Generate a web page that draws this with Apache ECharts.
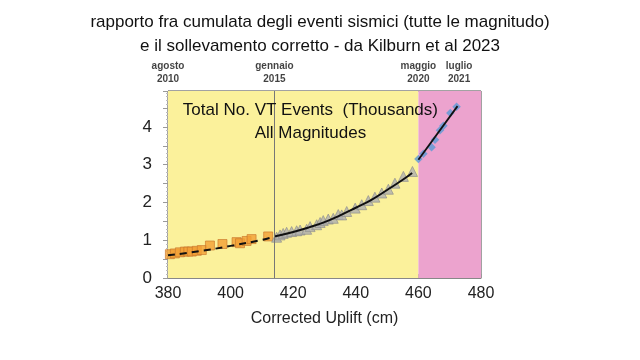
<!DOCTYPE html>
<html><head><meta charset="utf-8">
<script src="https://cdn.jsdelivr.net/npm/echarts@6/dist/echarts.min.js"></script>
<style>html,body{margin:0;padding:0;background:#fff}#c{width:640px;height:360px}</style>
</head><body><div id="c"></div>
<script>
// ---- data ----
var titleLines = ['rapporto fra cumulata degli eventi sismici (tutte le magnitudo)', 'e il sollevamento corretto - da Kilburn et al 2023'];
var xTicks = [380, 400, 420, 440, 460, 480];
var yTicks = [0, 1, 2, 3, 4];
var eventX = [380, 414, 460, 473];
var eventLabels = ['agosto\n2010', 'gennaio\n2015', 'maggio\n2020', 'luglio\n2021'];

var squaresX = [380.6, 382.2, 383.8, 385.4, 386.5, 387.6, 389.2, 390.8, 393.4, 397.4, 401.9, 403.0, 405.1, 406.7, 412.0];
var squaresY = [0.63, 0.65, 0.68, 0.70, 0.70, 0.70, 0.72, 0.74, 0.86, 0.90, 0.95, 0.92, 0.98, 1.03, 1.10];

var trianglesX = [414.7, 415.8, 416.8, 417.9, 419.5, 421.1, 422.2, 424.3, 425.4, 427.5, 428.6, 429.6, 431.2, 432.8, 434.4, 435.5, 437.1, 439.8, 441.9, 444.0, 446.1, 448.3, 450.4, 452.5, 455.2, 458.1];
var trianglesY = [1.08, 1.14, 1.18, 1.21, 1.23, 1.25, 1.27, 1.29, 1.36, 1.41, 1.47, 1.52, 1.56, 1.58, 1.68, 1.67, 1.76, 1.85, 1.94, 2.05, 2.14, 2.25, 2.35, 2.51, 2.69, 2.82];

var diamondsX = [460.0, 461.6, 464.2, 465.3, 466.9, 468.0, 470.2, 472.2];
var diamondsY = [3.15, 3.29, 3.46, 3.66, 3.91, 4.03, 4.37, 4.53];

var fitDashX = [380, 390, 400, 410, 414];
var fitDashY = [0.60, 0.71, 0.85, 1.01, 1.10];
var fitCurveX = [414, 420, 425, 430, 435, 440, 445, 450, 455, 458];
var fitCurveY = [1.10, 1.22, 1.34, 1.48, 1.66, 1.86, 2.07, 2.33, 2.60, 2.78];
var fitLineX = [460, 472.5];
var fitLineY = [3.13, 4.55];

var periodStart = 380, periodSplit = 460, periodEnd = 480, markX = 414;
var annotation = ['Total No. VT Events  (Thousands)', 'All Magnitudes'];
var xName = 'Corrected Uplift (cm)';

function zip(a, b) { return a.map(function (v, i) { return [v, b[i]]; }); }

var FONT = '"Liberation Sans", Arial, sans-serif';
var chart = echarts.init(document.getElementById('c'));
chart.setOption({
  animation: false,
  backgroundColor: '#ffffff',
  textStyle: { fontFamily: FONT },
  title: [
    { text: titleLines[0], left: 'center', top: 9, textStyle: { fontSize: 17, fontWeight: 'normal', color: '#111', fontFamily: FONT } },
    { text: titleLines[1], left: 'center', top: 33, textStyle: { fontSize: 17, fontWeight: 'normal', color: '#111', fontFamily: FONT } }
  ],
  grid: { left: 168, right: 159, top: 91, bottom: 82, show: true, borderColor: '#444', borderWidth: 1, backgroundColor: 'transparent' },
  xAxis: {
    type: 'value', min: xTicks[0], max: xTicks[xTicks.length - 1], interval: 20,
    name: xName, nameLocation: 'middle', nameGap: 33,
    nameTextStyle: { fontSize: 16, color: '#222', fontFamily: FONT },
    axisLine: { show: true, lineStyle: { color: '#888', width: 1 } },
    axisTick: { show: true, inside: true, length: 4, lineStyle: { color: '#999' } },
    minorTick: { show: true, splitNumber: 10, length: 2, lineStyle: { color: '#bbb' } },
    axisLabel: { fontSize: 16, color: '#222', margin: 8, fontFamily: FONT },
    splitLine: { show: false }
  },
  yAxis: {
    type: 'value', min: 0, max: 4.95, interval: 0.5,
    axisLine: { show: true, lineStyle: { color: '#888', width: 1 } },
    axisTick: { show: true, inside: false, length: 5, lineStyle: { color: '#999' } },
    minorTick: { show: true, splitNumber: 5, length: 2, lineStyle: { color: '#bbb' } },
    axisLabel: {
      fontSize: 17, color: '#222', margin: 16, fontFamily: FONT, showMaxLabel: false,
      formatter: function (v) { return yTicks.indexOf(v) >= 0 ? String(v) : ''; }
    },
    splitLine: { show: false }
  },
  series: [
    {
      type: 'line', data: [], silent: true,
      markArea: {
        silent: true,
        data: [
          [{ xAxis: periodStart, itemStyle: { color: '#FBF19B' } }, { xAxis: periodSplit }],
          [{ xAxis: periodSplit, itemStyle: { color: '#ECA3CE' } }, { xAxis: periodEnd }]
        ]
      },
      markLine: {
        silent: true, symbol: 'none', label: { show: false },
        lineStyle: { color: '#777', type: 'solid', width: 1 },
        data: [{ xAxis: markX }]
      }
    },
    {
      type: 'scatter', data: zip(squaresX, squaresY), symbol: 'rect', symbolSize: 9, z: 3,
      itemStyle: { color: '#F2A035', borderColor: '#C8742A', borderWidth: 0.8 }
    },
    {
      type: 'scatter', data: zip(trianglesX, trianglesY), symbol: 'triangle', symbolSize: 10, z: 3,
      itemStyle: { color: '#B0B0B0', borderColor: '#8a8a8a', borderWidth: 0.8 }
    },
    {
      type: 'scatter', data: zip(diamondsX, diamondsY), symbol: 'rect', symbolRotate: 45, symbolSize: 6, z: 3,
      itemStyle: { color: '#5B9AD6' }
    },
    {
      type: 'line', data: zip(fitDashX, fitDashY), smooth: true, showSymbol: false, z: 4,
      lineStyle: { color: '#111', width: 2, type: [7, 5] }
    },
    {
      type: 'line', data: zip(fitCurveX, fitCurveY), smooth: true, showSymbol: false, z: 4,
      lineStyle: { color: '#111', width: 2 }
    },
    {
      type: 'line', data: zip(fitLineX, fitLineY), showSymbol: false, z: 4,
      lineStyle: { color: '#111', width: 1.8 }
    },
    {
      type: 'scatter', symbolSize: 0, silent: true, clip: false,
      data: eventX.map(function (x, i) { return { value: [x, 4.95], label: { formatter: eventLabels[i] } }; }),
      label: {
        show: true, position: 'top', distance: 5, fontSize: 10, fontWeight: 'bold',
        color: '#111', lineHeight: 13, align: 'center', fontFamily: FONT
      }
    }
  ]
});
// annotation text positioned inside the plot via the axes
var p1 = chart.convertToPixel({ gridIndex: 0 }, [425.5, 4.44]);
var p2 = chart.convertToPixel({ gridIndex: 0 }, [425.5, 3.84]);
chart.setOption({
  graphic: [
    { type: 'text', x: p1[0], y: p1[1], style: { text: annotation[0], fontSize: 17, fill: '#111', align: 'center', verticalAlign: 'middle', fontFamily: FONT }, z: 10 },
    { type: 'text', x: p2[0], y: p2[1], style: { text: annotation[1], fontSize: 17, fill: '#111', align: 'center', verticalAlign: 'middle', fontFamily: FONT }, z: 10 }
  ]
});
</script>
</body></html>
